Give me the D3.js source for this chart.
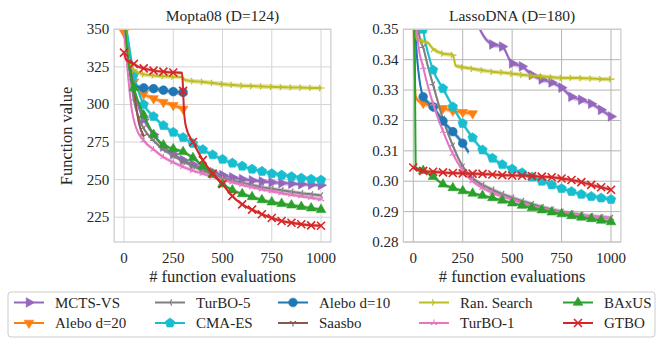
<!DOCTYPE html>
<html><head><meta charset="utf-8">
<script src="https://cdn.jsdelivr.net/npm/d3@7"></script>
<style>body{margin:0;background:#fff}svg{display:block}</style>
</head><body><svg id="c" width="664" height="345" font-family="'Liberation Serif', 'Times New Roman', 'DejaVu Serif', serif" fill="#262626"></svg>
<script>
// ---------- data ----------
const methods = ["MCTS-VS","Alebo d=20","TurBO-5","CMA-ES","Alebo d=10","Saasbo","Ran. Search","TurBO-1","BAxUS","GTBO"];
const xTicks = [0,250,500,750,1000];
const moptaYTicks = [225,250,275,300,325,350];
const lassoYTicks = [0.28,0.29,0.30,0.31,0.32,0.33,0.34,0.35];
const panelTitles = ["Mopta08 (D=124)","LassoDNA (D=180)"];

// Mopta08 mean curves [evaluations, value]
const moptaMCTS = [[0,362],[25,335],[50,312],[75,298],[100,290],[150,280],[200,272],[250,267],[300,263],[350,260],[400,257.5],[450,255],[500,253],[550,251.5],[600,250.3],[650,249.5],[700,248.8],[750,248.2],[800,247.7],[850,247.3],[900,246.9],[950,246.6],[1000,246.3]];
const moptaAlebo20 = [[0,348],[25,325],[50,315],[75,310],[100,307],[150,304],[200,301.5],[250,299.5],[300,297]];
const moptaTurbo5 = [[0,358],[25,326],[50,303],[75,291],[100,284],[150,276],[200,270],[250,266],[300,262],[350,259],[400,256],[450,253.5],[500,251.5],[550,249.5],[600,248],[650,246.5],[700,245],[750,244],[800,243],[850,242],[900,241],[950,240.2],[1000,239.5]];
const moptaCMA = [[0,362],[25,340],[50,320],[75,308],[100,300],[150,292],[200,286],[250,281.5],[300,278],[350,274],[400,270],[450,266.5],[500,263.5],[550,261],[600,259],[650,257],[700,255.5],[750,254],[800,253],[850,252],[900,251],[950,250.3],[1000,249.7]];
const moptaAlebo10 = [[0,356],[20,330],[40,316],[60,312],[100,311],[150,310.5],[200,309.5],[250,308.5],[300,308]];
const moptaSaasbo = [[0,356],[25,330],[50,310],[75,288],[100,279]];
const moptaRandom = [[0,365],[15,340],[30,327],[50,323],[75,321],[100,320],[150,319.3],[200,318.8],[250,318.5],[290,318.2],[310,316.3],[350,315.5],[400,315],[450,314.3],[500,313.5],[550,313],[600,312.5],[650,312.2],[700,312],[750,311.7],[800,311.5],[850,311.3],[900,311.2],[950,311],[1000,310.9]];
const moptaTurbo1 = [[0,352],[20,320],[40,296],[60,285],[100,276],[150,270],[200,265],[250,261.5],[300,258.5],[350,256],[400,254],[450,252],[500,250],[550,248.2],[600,246.5],[650,245],[700,243.5],[750,242.2],[800,241],[850,240],[900,239],[950,238],[1000,237]];
const moptaBaxus = [[0,360],[25,326],[50,311],[75,301],[100,293],[150,280],[200,273],[250,270.4],[300,268.5],[350,264.5],[400,259],[450,253.5],[500,247],[550,243],[600,240.5],[650,238.5],[700,236.5],[750,235],[800,234],[850,233],[900,232],[950,231],[1000,230]];
const moptaGtbo = [[0,334.5],[10,330],[25,328.5],[50,327],[75,325],[100,324],[150,322.5],[200,321.8],[250,321.3],[295,321],[300,309],[305,295],[315,285],[350,275],[400,263],[450,254],[500,247],[550,239],[600,233.5],[650,230],[700,227],[750,224.5],[800,222.5],[850,221.3],[900,220.3],[950,219.6],[1000,219.3]];

// LassoDNA mean curves
const lassoMCTS = [[300,0.3565],[337,0.35],[370,0.3465],[400,0.345],[450,0.3443],[500,0.3388],[550,0.3378],[600,0.335],[650,0.3335],[700,0.3325],[750,0.3308],[800,0.3278],[850,0.3268],[900,0.3255],[950,0.3235],[1000,0.3213]];
const lassoAlebo20 = [[0,0.355],[5,0.34],[12,0.328],[25,0.3265],[50,0.3257],[100,0.3246],[150,0.324],[200,0.3232],[250,0.3227],[300,0.3223]];
const lassoTurbo5 = [[20,0.352],[35,0.3465],[50,0.344],[75,0.3375],[100,0.3318],[150,0.3205],[200,0.3117],[250,0.3048],[300,0.301],[350,0.2988],[400,0.2972],[450,0.2958],[500,0.2946],[550,0.2935],[600,0.2925],[650,0.2915],[700,0.2907],[750,0.29],[800,0.2894],[850,0.2889],[900,0.2885],[950,0.2882],[1000,0.2879]];
const lassoCMA = [[40,0.356],[50,0.35],[75,0.342],[100,0.3366],[150,0.3305],[200,0.3245],[250,0.319],[300,0.3143],[350,0.3103],[400,0.3076],[450,0.3055],[500,0.304],[550,0.3028],[600,0.3014],[650,0.3],[700,0.2988],[750,0.2976],[800,0.2966],[850,0.2957],[900,0.295],[950,0.2945],[1000,0.294]];
const lassoAlebo10 = [[0,0.36],[20,0.34],[40,0.33],[50,0.3278],[100,0.3245],[150,0.3198],[200,0.3163],[250,0.3125],[280,0.3095]];
const lassoSaasbo = [];
const lassoRandom = [[0,0.36],[10,0.348],[25,0.3465],[50,0.346],[75,0.3455],[100,0.3435],[150,0.342],[200,0.3415],[215,0.338],[250,0.3375],[300,0.337],[350,0.3365],[400,0.336],[450,0.3358],[500,0.3354],[550,0.335],[600,0.3347],[650,0.3345],[700,0.3342],[750,0.334],[800,0.334],[850,0.3339],[900,0.3338],[950,0.3336],[1000,0.3336]];
const lassoTurbo1 = [[10,0.356],[25,0.345],[50,0.3375],[75,0.331],[100,0.3255],[150,0.3165],[200,0.309],[250,0.3035],[300,0.3],[350,0.2978],[400,0.2962],[450,0.295],[500,0.294],[550,0.2928],[600,0.2918],[650,0.291],[700,0.2903],[750,0.2897],[800,0.2892],[850,0.2887],[900,0.2884],[950,0.2881],[1000,0.2878]];
const lassoBaxus = [[0,0.358],[8,0.34],[12,0.3045],[50,0.3035],[100,0.3015],[150,0.299],[200,0.2978],[250,0.2968],[300,0.296],[350,0.2953],[400,0.2945],[450,0.2937],[500,0.2928],[550,0.292],[600,0.2912],[650,0.2905],[700,0.2898],[750,0.2892],[800,0.2886],[850,0.2881],[900,0.2876],[950,0.2871],[1000,0.2866]];
const lassoGtbo = [[0,0.3045],[25,0.3037],[50,0.3034],[100,0.3031],[150,0.3029],[200,0.3027],[250,0.3026],[300,0.3025],[350,0.3024],[400,0.3022],[450,0.302],[500,0.3019],[550,0.3018],[600,0.3017],[650,0.3015],[700,0.3013],[750,0.3009],[800,0.3004],[850,0.2997],[900,0.2988],[950,0.298],[1000,0.2972]];

// standard-error half widths
const moptaErr = [1.2,1.3,1.0,1.3,1.5,1.5,1.3,1.0,1.0,0.8];
const lassoErr = [0.0007,0.0007,0.0006,0.0007,0.0008,0.0006,0.0006,0.0005,0.0004,0.0005];

const moptaSeries = [moptaMCTS,moptaAlebo20,moptaTurbo5,moptaCMA,moptaAlebo10,moptaSaasbo,moptaRandom,moptaTurbo1,moptaBaxus,moptaGtbo];
const lassoSeries = [lassoMCTS,lassoAlebo20,lassoTurbo5,lassoCMA,lassoAlebo10,lassoSaasbo,lassoRandom,lassoTurbo1,lassoBaxus,lassoGtbo];

// ---------- styles ----------
const colors = ["#9467bd","#ff7f0e","#7f7f7f","#17becf","#1f77b4","#8c564b","#bcbd22","#e377c2","#2ca02c","#d62728"];
const markers = ["triR","triD","spokeL","pent","circle","spokeD","spokeR","spokeU","triU","x"];

function markerPath(t){
  const r=5.6, s=0.866, q=3.6;
  const poly = pts => "M"+pts.map(p=>p.join(",")).join("L")+"Z";
  const spokes = pts => pts.map(p=>"M0,0L"+p.join(",")).join("");
  switch(t){
    case "triR": return poly([[r,0],[-r/2,-r*s],[-r/2,r*s]]);
    case "triD": return poly([[0,r],[-r*s,-r/2],[r*s,-r/2]]);
    case "triU": return poly([[0,-r],[-r*s,r/2],[r*s,r/2]]);
    case "circle": return d3.symbol(d3.symbolCircle,60)();
    case "pent": { const R=5; const pts=[]; for(let i=0;i<5;i++){const a=-Math.PI/2+i*2*Math.PI/5; pts.push([R*Math.cos(a),R*Math.sin(a)]);} return poly(pts);}
    case "x": { const k=4; return `M${-k},${-k}L${k},${k}M${-k},${k}L${k},${-k}`; }
    case "spokeD": return spokes([[0,q],[-q*s,-q/2],[q*s,-q/2]]);
    case "spokeU": return spokes([[0,-q],[-q*s,q/2],[q*s,q/2]]);
    case "spokeL": return spokes([[-q,0],[q/2,-q*s],[q/2,q*s]]);
    case "spokeR": return spokes([[q,0],[-q/2,-q*s],[-q/2,q*s]]);
  }
}
const filled = t => !(t.startsWith("spoke") || t==="x");

function drawMarker(g, t, color, x, y){
  const p = g.append("path").attr("d", markerPath(t)).attr("transform",`translate(${x},${y})`);
  if(filled(t)) p.attr("fill",color).attr("stroke",color).attr("stroke-width",0.6);
  else p.attr("fill","none").attr("stroke",color).attr("stroke-width",t==="x"?1.6:1.1);
}

const svg = d3.select("#c");
const plotTop=29.3, plotBottom=242;

function panel(idx, left, right, yDomain, yTicks, fmt, series, errs, gridColor){
  const x = d3.scaleLinear().domain([-50,1050]).range([left,right]);
  const y = d3.scaleLinear().domain(yDomain).range([plotBottom,plotTop]);
  const g = svg.append("g");
  const cid = "clip"+idx;
  svg.append("clipPath").attr("id",cid).append("rect").attr("x",left).attr("y",plotTop).attr("width",right-left).attr("height",plotBottom-plotTop);
  g.selectAll(".gx").data(xTicks).join("line").attr("x1",d=>x(d)).attr("x2",d=>x(d)).attr("y1",plotTop).attr("y2",plotBottom).attr("stroke",gridColor).attr("stroke-width",1);
  g.selectAll(".gy").data(yTicks).join("line").attr("y1",d=>y(d)).attr("y2",d=>y(d)).attr("x1",left).attr("x2",right).attr("stroke",gridColor).attr("stroke-width",1);
  const pg = g.append("g").attr("clip-path",`url(#${cid})`);
  const line = d3.line().x(d=>x(d[0])).y(d=>y(d[1])).curve(d3.curveMonotoneX);
  series.forEach((data,i)=>{
    if(!data.length) return;
    const e = errs[i];
    const area = d3.area().x(d=>x(d[0])).y0(d=>y(d[1]-e)).y1(d=>y(d[1]+e)).curve(d3.curveMonotoneX);
    pg.append("path").datum(data).attr("d",area).attr("fill",colors[i]).attr("fill-opacity",0.3);
    pg.append("path").datum(data).attr("d",d3.line().x(d=>x(d[0])).y(d=>y(d[1]+e)).curve(d3.curveMonotoneX)).attr("fill","none").attr("stroke",colors[i]).attr("stroke-opacity",0.35).attr("stroke-width",0.8);
    pg.append("path").datum(data).attr("d",d3.line().x(d=>x(d[0])).y(d=>y(d[1]-e)).curve(d3.curveMonotoneX)).attr("fill","none").attr("stroke",colors[i]).attr("stroke-opacity",0.35).attr("stroke-width",0.8);
    pg.append("path").datum(data).attr("d",line).attr("fill","none").attr("stroke",colors[i]).attr("stroke-width",2);
    const mg = pg.append("g");
    data.filter(d=>d[0]%50===0).forEach(d=>drawMarker(mg, markers[i], colors[i], x(d[0]), y(d[1])));
  });
  g.append("rect").attr("x",left).attr("y",plotTop).attr("width",right-left).attr("height",plotBottom-plotTop).attr("fill","none").attr("stroke","#cccccc").attr("stroke-width",1.25);
  g.selectAll(".tx").data(xTicks).join("text").attr("x",d=>x(d)).attr("y",263).attr("text-anchor","middle").attr("font-size",15).text(d=>d);
  g.selectAll(".ty").data(yTicks).join("text").attr("x",left-5).attr("y",d=>y(d)+5).attr("text-anchor","end").attr("font-size",15).text(fmt);
  g.append("text").attr("x",(left+right)/2).attr("y",282).attr("text-anchor","middle").attr("font-size",16.5).text("# function evaluations");
  g.append("text").attr("x",(left+right)/2).attr("y",21).attr("text-anchor","middle").attr("font-size",15.5).text(panelTitles[idx]);
}

panel(0, 114.15, 330.85, [208.5,350], moptaYTicks, d=>d3.format("d")(d), moptaSeries, moptaErr, "#d4d4d4");
panel(1, 403.4, 620.9, [0.28,0.35], lassoYTicks, d=>d3.format(".2f")(d), lassoSeries, lassoErr, "#b4b4b4");

svg.append("text").attr("transform","translate(72,136) rotate(-90)").attr("text-anchor","middle").attr("font-size",16.5).text("Function value");

const lg = svg.append("g");
lg.append("rect").attr("x",8).attr("y",292).attr("width",647).attr("height",45).attr("rx",3).attr("fill","#fff").attr("stroke","#cccccc").attr("stroke-width",1);
const colX = [14,155,278,419,563], rowY = [302.5,323];
methods.forEach((m,i)=>{
  const c = Math.floor(i/2), r = i%2;
  const x0 = colX[c], yy = rowY[r];
  lg.append("line").attr("x1",x0).attr("x2",x0+30).attr("y1",yy).attr("y2",yy).attr("stroke",colors[i]).attr("stroke-width",2);
  drawMarker(lg, markers[i], colors[i], x0+15, yy);
  lg.append("text").attr("x",x0+41).attr("y",yy+5).attr("font-size",15).text(m);
});
</script></body></html>
